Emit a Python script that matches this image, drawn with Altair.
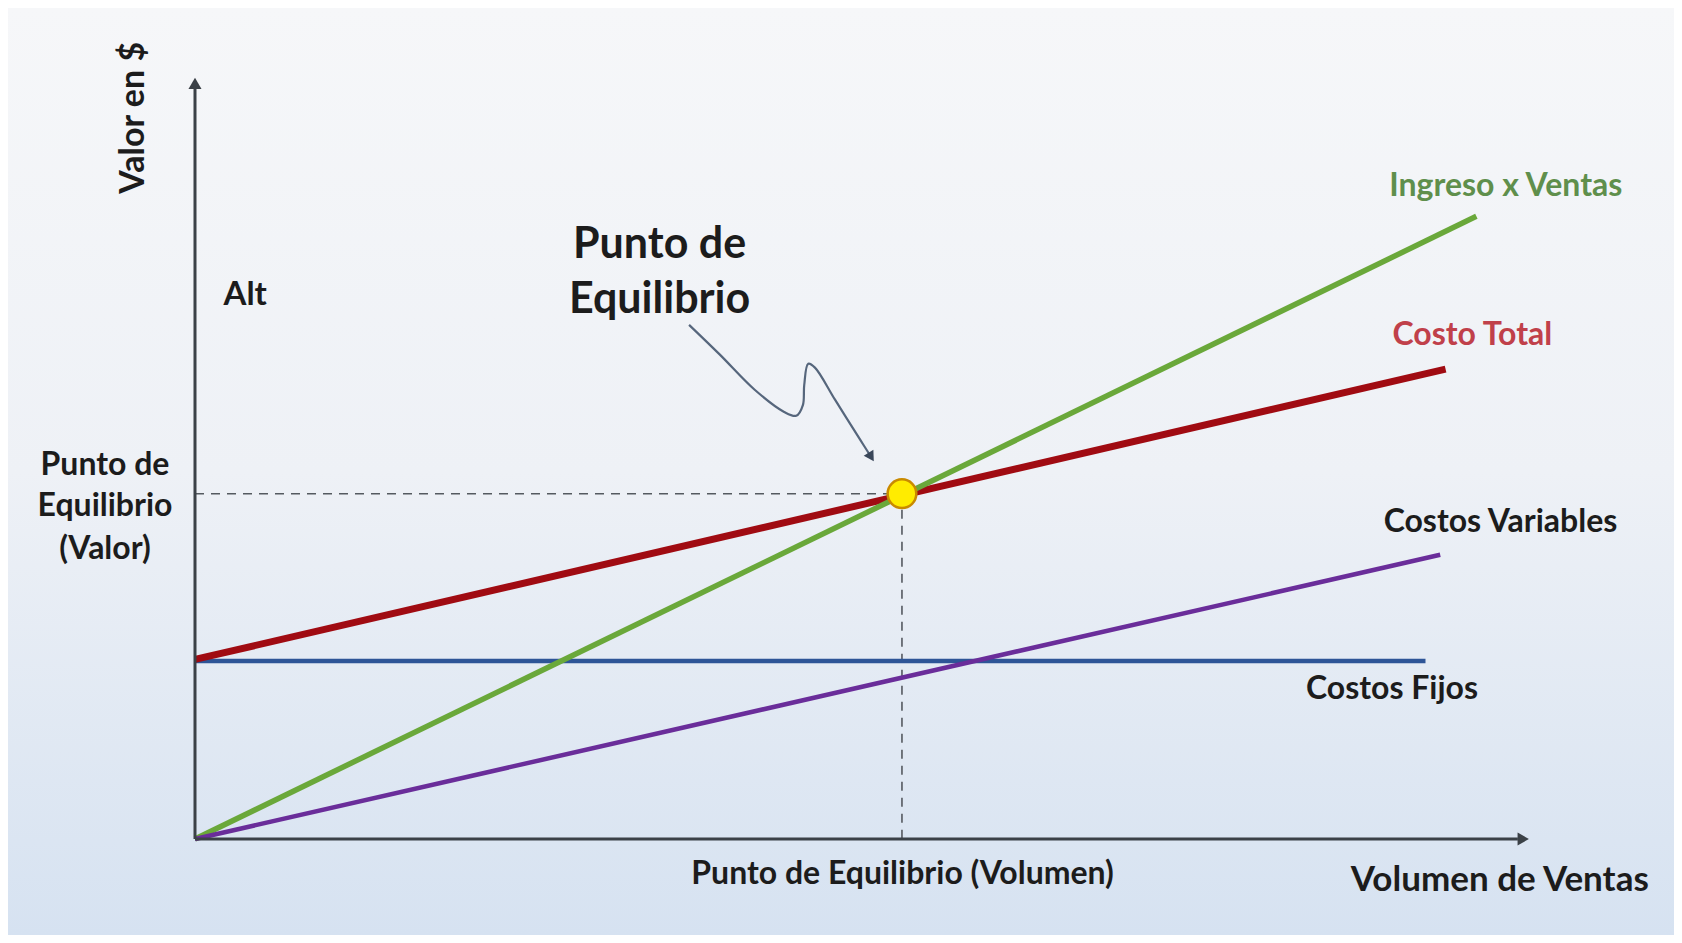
import altair as alt
import pandas as pd

# ---------------- data ----------------
series_names = ["Costos Fijos", "Costo Total", "Ingreso x Ventas", "Costos Variables"]
series_x = [[0, 91.9], [0, 93.4], [0, 95.7], [0, 93.0]]
series_y = [[23.3, 23.3], [23.5, 61.5], [0, 81.5], [0, 37.2]]
series_colors = ["#2e5597", "#a00b12", "#6aa83a", "#6a2d9a"]
series_widths = [4.5, 7, 5.5, 4.5]

be_x = [52.8]
be_y = [45.2]

label_text = ["Ingreso x Ventas", "Costo Total", "Costos Variables", "Costos Fijos"]
label_x = [97.9, 95.4, 97.5, 89.4]
label_y = [85.5, 66.0, 41.5, 19.6]
label_color = ["#5f8f4c", "#c0404a", "#1c1c1c", "#1c1c1c"]

# squiggly annotation arrow
arrow_x = [36.9, 39.2, 41.8, 44.0, 44.9, 45.4, 45.5, 45.8, 46.3, 47.8, 49.7, 50.5]
arrow_y = [67.3, 63.4, 58.8, 55.9, 55.4, 56.8, 59.4, 62.2, 61.7, 57.5, 52.2, 50.0]

# ---------------- layout ----------------
W, H = 1666, 927
XMIN, XMAX = -13.966, 110.46
YMIN, YMAX = -12.565, 108.77
xs = alt.Scale(domain=[XMIN, XMAX], nice=False, zero=False)
ys = alt.Scale(domain=[YMIN, YMAX], nice=False, zero=False)
FONT = "Lato"
INK = "#1c1c1c"
AXIS = "#3b4147"

one = pd.DataFrame({"a": [0]})

bg = alt.Chart(one).mark_rect(
    fill=alt.Gradient(
        gradient="linear",
        stops=[
            alt.GradientStop(color="#f6f7f9", offset=0),
            alt.GradientStop(color="#eef1f6", offset=0.5),
            alt.GradientStop(color="#d6e2f1", offset=1),
        ],
        x1=0, x2=0, y1=0, y2=1,
    )
).encode(x=alt.value(0), x2=alt.value(W), y=alt.value(0), y2=alt.value(H))

def X(f):
    return alt.X(f, type="quantitative", scale=xs, axis=None)

def Y(f):
    return alt.Y(f, type="quantitative", scale=ys, axis=None)

# dashed guides
guides = pd.DataFrame({
    "x": [0, be_x[0]], "x2": [be_x[0], be_x[0]],
    "y": [be_y[0], be_y[0]], "y2": [be_y[0], 0],
})
guide_layer = alt.Chart(guides).mark_rule(
    color="#555a60", strokeWidth=1.6, strokeDash=[9, 7]
).encode(x=X("x"), x2="x2", y=Y("y"), y2="y2")

# axes
axes_df = pd.DataFrame({"x": [0, 0], "x2": [0, 98.8], "y": [0, 0], "y2": [98.5, 0]})
axes_layer = alt.Chart(axes_df).mark_rule(color=AXIS, strokeWidth=3).encode(
    x=X("x"), x2="x2", y=Y("y"), y2="y2"
)
heads = pd.DataFrame({"x": [0, 99.2], "y": [98.9, 0], "shape": ["triangle-up", "triangle-right"]})
heads_layer = alt.Chart(heads).mark_point(filled=True, color=AXIS, opacity=1, size=170).encode(
    x=X("x"), y=Y("y"), shape=alt.Shape("shape:N", scale=None)
)

# series lines
line_layers = []
for name, sx, sy, c, w in zip(series_names, series_x, series_y, series_colors, series_widths):
    df = pd.DataFrame({"x": sx, "y": sy, "serie": name})
    line_layers.append(
        alt.Chart(df).mark_line(color=c, strokeWidth=w, strokeCap="butt").encode(x=X("x"), y=Y("y"))
    )

# annotation squiggle
arr_df = pd.DataFrame({"x": arrow_x, "y": arrow_y, "i": list(range(len(arrow_x)))})
arrow_line = alt.Chart(arr_df).mark_line(
    color="#56667c", strokeWidth=2.2, interpolate="catmull-rom"
).encode(x=X("x"), y=Y("y"), order="i:Q")
arrow_head = alt.Chart(pd.DataFrame({"x": [arrow_x[-1]], "y": [arrow_y[-1]]})).mark_point(
    shape="triangle-up", filled=True, color="#3a475a", opacity=1, size=130, angle=148
).encode(x=X("x"), y=Y("y"))

# break-even point
be_layer = alt.Chart(pd.DataFrame({"x": be_x, "y": be_y})).mark_point(
    shape="circle", filled=True, fill="#ffec00", stroke="#c98a00", strokeWidth=2.5, opacity=1, size=820
).encode(x=X("x"), y=Y("y"))

# series labels
lab_df = pd.DataFrame({"x": label_x, "y": label_y, "t": label_text, "c": label_color})
lab_layer = alt.Chart(lab_df).mark_text(font=FONT, fontWeight="bold", fontSize=32).encode(
    x=X("x"), y=Y("y"), text="t:N", color=alt.Color("c:N", scale=None)
)

# other texts
texts = pd.DataFrame({
    "x": [3.75, 34.7, 34.7, -6.72, -6.72, -6.72, 52.85, 97.45],
    "y": [71.2, 77.7, 70.5, 48.95, 43.6, 37.95, -4.6, -5.4],
    "t": ["Alt", "Punto de", "Equilibrio", "Punto de", "Equilibrio", "(Valor)",
          "Punto de Equilibrio (Volumen)", "Volumen de Ventas"],
    "s": [33, 43, 43, 32, 32, 32, 32, 35],
})
txt_layer = alt.Chart(texts).mark_text(font=FONT, fontWeight="bold", color=INK).encode(
    x=X("x"), y=Y("y"), text="t:N", size=alt.Size("s:Q", scale=None)
)
vtitle = alt.Chart(pd.DataFrame({"x": [-4.56], "y": [94.4], "t": ["Valor en $"]})).mark_text(
    font=FONT, fontWeight="bold", fontSize=34, angle=270, color=INK
).encode(x=X("x"), y=Y("y"), text="t:N")

chart = alt.layer(
    bg, guide_layer, *line_layers, axes_layer, heads_layer,
    arrow_line, arrow_head, be_layer, lab_layer, txt_layer, vtitle
).properties(
    width=W, height=H, padding=0, autosize=alt.AutoSizeParams(type="none")
).configure_view(stroke=None)

chart.save("out.html", embed_options={"renderer": "svg", "actions": False})
